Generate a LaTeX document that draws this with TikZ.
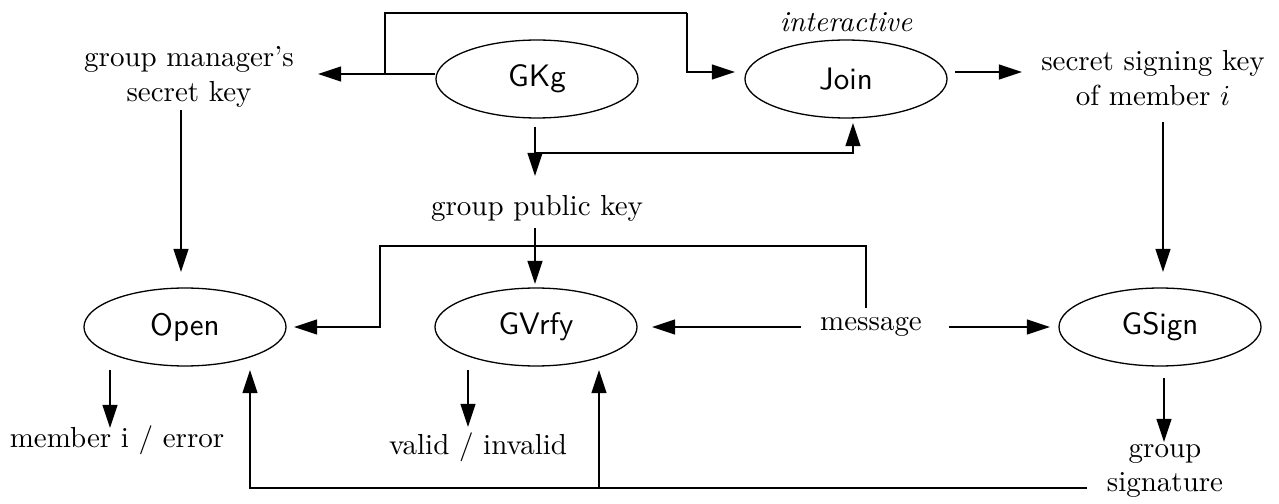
\documentclass[tikz,border=0pt]{standalone}
\usetikzlibrary{arrows.meta,shapes.geometric,calc}
\begin{document}
\begin{tikzpicture}[x=0.345pt,y=-0.345pt,
  line width=0.45pt,
  arr/.style={-{Triangle[length=8pt,width=5.2pt]}},
  alg/.style={draw,ellipse,minimum width=69.7pt,minimum height=26.9pt,inner sep=0pt,font=\sffamily\fontsize{10.7}{12}\selectfont},
  txt/.style={align=center,inner sep=0pt}]
\useasboundingbox (0,0) rectangle (1279,504);

% algorithms
\node[alg] (gkg)   at (537,79)  {GKg};
\node[alg] (join)  at (846,79)  {Join};
\node[alg] (open)  at (185,327) {Open};
\node[alg] (gvrfy) at (536,327) {GVrfy};
\node[alg] (gsign) at (1160,327) {GSign};

% data
\node[font=\itshape] (inter) at (846,22) {interactive};
\node[txt] (gmsk)  at (189,77)  {group manager's\\secret key};
\node[txt] (sskey) at (1153,78) {secret signing key\\of member $i$};
\node[txt] (gpk)   at (537,208) {group public key};
\node[txt] (msg)   at (871,327) {message};
\node[txt] (mem)   at (117,440) {member i / error};
\node[txt] (valid) at (478,447) {valid / invalid};
\node[txt] (gsig)  at (1165,471) {group\\signature};

% bend points and free ends
\coordinate (k1) at (385,74);
\coordinate (k2) at (687,13);
\coordinate (gmskin) at (318,74);
\coordinate (p1) at (535,153);
\coordinate (m1) at (866,246);
\coordinate (m2) at (380,327);
\coordinate (s1) at (250,488);
\coordinate (s2) at (599,488);

% key generation
\draw[arr] (gkg.west |- k1) -- (gmskin);
\draw (k1) |- (k2);
\draw[arr] (k2) |- (735,72);
\draw[arr] (955,72) -- (1022,72);
\draw[arr] (535,127) -- (535,176);
\draw[arr] (p1) -| (853,123);

% keys into the algorithms
\draw[arr] (181,110) -- (181,272);
\draw[arr] (1163,122) -- (1163,272);
\draw[arr] (535,228) -- (535,284);

% message
\draw[arr] (866,308) -- (m1) -| (m2) -- (294,327);
\draw[arr] (801,327) -- (652,327);
\draw[arr] (949,327) -- (1050,327);

% outputs
\draw[arr] (110,370) -- (110,428);
\draw[arr] (468,370) -- (468,427);
\draw[arr] (1164,378) -- (1164,442);

% signature fed back to Open and GVrfy
\draw[arr] (1087,488) -- (s1) -- (250,370);
\draw[arr] (s2) -- (599,370);
\end{tikzpicture}
\end{document}
